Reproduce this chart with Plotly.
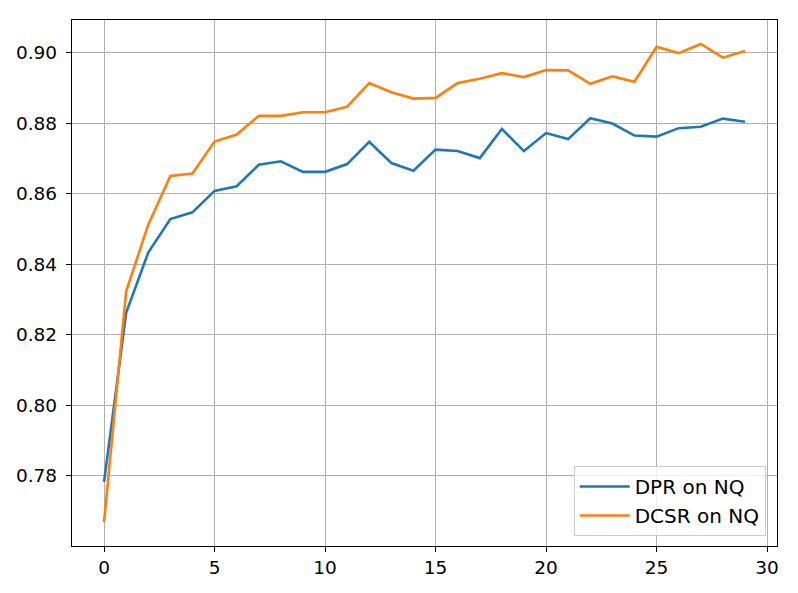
import plotly.graph_objects as go

epochs = list(range(30))

dpr_nq = [
    0.7782, 0.8262, 0.8433, 0.8528, 0.8547, 0.8608, 0.8621, 0.8682, 0.8692, 0.8662,
    0.8662, 0.8684, 0.8747, 0.8687, 0.8665, 0.8725, 0.8721, 0.8701, 0.8784, 0.8721,
    0.8772, 0.8755, 0.8814, 0.8799, 0.8765, 0.8762, 0.8786, 0.8790, 0.8813, 0.8804,
]

dcsr_nq = [
    0.7668, 0.8323, 0.8512, 0.8650, 0.8657, 0.8748, 0.8768, 0.8821, 0.8821, 0.8831,
    0.8831, 0.8847, 0.8914, 0.8888, 0.8870, 0.8872, 0.8914, 0.8926, 0.8942, 0.8931,
    0.8951, 0.8950, 0.8912, 0.8933, 0.8918, 0.9017, 0.8999, 0.9025, 0.8986, 0.9005,
]

x_ticks = [0, 5, 10, 15, 20, 25, 30]
y_ticks = [0.78, 0.80, 0.82, 0.84, 0.86, 0.88, 0.90]

fig = go.Figure()
fig.add_trace(go.Scatter(
    x=epochs, y=dpr_nq, mode='lines', name='DPR on NQ',
    line=dict(color='#1f77b4', width=2.6),
))
fig.add_trace(go.Scatter(
    x=epochs, y=dcsr_nq, mode='lines', name='DCSR on NQ',
    line=dict(color='#ff7f0e', width=2.6),
))

axis_style = dict(
    showline=True, linecolor='black', linewidth=1.4, mirror=True,
    showgrid=True, gridcolor='#b0b0b0', gridwidth=1.2,
    ticks='outside', ticklen=5, tickwidth=1.2, tickcolor='black',
    zeroline=False,
    tickfont=dict(family='DejaVu Sans', size=18.5, color='black'),
)

fig.update_layout(
    width=798,
    height=593,
    paper_bgcolor='white',
    plot_bgcolor='white',
    margin=dict(l=72, r=21, t=20, b=47),
    font=dict(family='DejaVu Sans', size=18.5, color='black'),
    xaxis=dict(range=[-1.45, 30.45], tickvals=x_ticks, **axis_style),
    yaxis=dict(
        range=[0.7600, 0.9093], tickvals=y_ticks, tickformat='.2f',
        ticklabelstandoff=5, **axis_style
    ),
    legend=dict(
        x=0.984, y=0.019, xanchor='right', yanchor='bottom',
        bgcolor='rgba(255,255,255,0.8)', bordercolor='#cccccc', borderwidth=1,
        font=dict(family='DejaVu Sans', size=20, color='black'),
        tracegroupgap=0, itemwidth=50,
    ),
    showlegend=True,
)

# drop the default 8px page margin so the figure sits at the window origin
fig.write_html(
    "out.html",
    config={'displayModeBar': False},
    post_script="document.body.style.margin='0';",
)
